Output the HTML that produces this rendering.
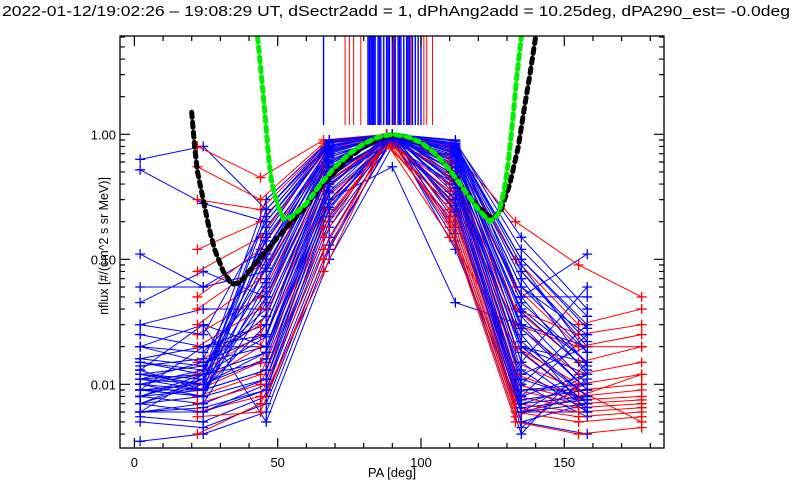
<!DOCTYPE html>
<html><head><meta charset="utf-8">
<style>
html,body{margin:0;padding:0;background:#fff;width:800px;height:500px;overflow:hidden}
svg{display:block;font-family:"Liberation Sans",sans-serif}
</style></head>
<body>
<svg id="chart" width="800" height="500" viewBox="0 0 800 500" xmlns="http://www.w3.org/2000/svg">
<text x="2" y="16" font-size="14.5" textLength="788" lengthAdjust="spacingAndGlyphs" fill="#000">2022-01-12/19:02:26 – 19:08:29 UT, dSectr2add = 1, dPhAng2add = 10.25deg, dPA290_est=  -0.0deg</text>
<text x="392" y="477" font-size="13" text-anchor="middle" fill="#000">PA [deg]</text>
<text transform="translate(108,246) rotate(-90)" font-size="12.5" text-anchor="middle" fill="#000">nflux [#/(cm^2 s sr MeV)]</text>
<g id="marks"></g>
<g id="axes"></g>
</svg>
<script>
const bluePA=[2,24,46,68,90,112,135,158];
const redPA=[22,44,66,88,110,133,155,177];
const blueSeries=[
[0.63,0.8,0.25,0.85,1.0,0.7,0.03,0.02],
[0.52,0.28,0.2,0.8,1.0,0.75,0.02,0.008],
[0.11,0.06,0.12,0.7,1.0,0.6,0.05,0.11],
[0.06,0.06,0.08,0.6,0.95,0.55,0.015,0.06],
[0.045,0.08,0.05,0.55,1.0,0.5,0.01,0.03],
[0.03,0.04,0.04,0.5,0.9,0.45,0.008,0.025],
[0.025,0.02,0.03,0.45,1.0,0.4,0.012,0.02],
[0.02,0.015,0.025,0.4,0.95,0.42,0.02,0.015],
[0.016,0.02,0.02,0.35,1.0,0.35,0.006,0.012],
[0.012,0.01,0.018,0.3,0.9,0.3,0.007,0.01],
[0.011,0.012,0.015,0.28,0.85,0.28,0.009,0.009],
[0.009,0.009,0.013,0.25,1.0,0.25,0.005,0.007],
[0.008,0.007,0.011,0.22,0.92,0.22,0.006,0.006],
[0.007,0.006,0.01,0.2,0.97,0.2,0.01,0.0055],
[0.006,0.0065,0.009,0.18,0.88,0.18,0.005,0.004],
[0.0055,0.005,0.008,0.15,1.0,0.16,0.0045,0.011],
[0.005,0.0045,0.007,0.13,0.9,0.14,0.004,0.015],
[0.0035,0.004,0.006,0.12,0.95,0.12,0.006,0.008],
[0.02,0.03,0.02,0.3,0.55,0.045,0.03,0.02],
[0.015,0.012,0.3,0.9,1.0,0.9,0.05,0.05],
[0.01,0.008,0.15,0.7,1.0,0.8,0.1,0.03],
[0.013,0.03,0.005,0.1,0.8,0.4,0.02,0.012],
[0.007,0.011,0.1,0.8,1.0,0.85,0.15,0.04],
[0.02,0.018,0.06,0.65,1.0,0.7,0.08,0.02],
[0.012,0.014,0.04,0.5,0.95,0.6,0.04,0.015],
[0.009,0.02,0.025,0.6,1.0,0.5,0.03,0.009],
[0.006,0.012,0.018,0.4,0.9,0.65,0.025,0.006],
[0.03,0.025,0.2,0.85,0.98,0.75,0.06,0.025],
[0.011,0.01,0.22,0.88,1.0,0.82,0.09,0.018],
[0.008,0.009,0.18,0.82,0.97,0.78,0.07,0.014],
[0.014,0.016,0.14,0.78,1.0,0.72,0.05,0.012],
[0.01,0.013,0.11,0.74,0.95,0.68,0.035,0.01],
[0.007,0.008,0.09,0.7,1.0,0.62,0.028,0.009],
[0.012,0.011,0.07,0.66,0.93,0.58,0.022,0.008],
[0.009,0.01,0.055,0.62,1.0,0.54,0.018,0.007],
[0.006,0.007,0.045,0.58,0.96,0.5,0.015,0.0065],
[0.016,0.014,0.035,0.54,1.0,0.46,0.013,0.006],
[0.01,0.009,0.03,0.5,0.92,0.43,0.011,0.0075],
[0.008,0.012,0.024,0.46,1.0,0.4,0.009,0.01],
[0.011,0.015,0.02,0.42,0.95,0.37,0.008,0.012],
[0.007,0.01,0.016,0.38,1.0,0.33,0.0075,0.009],
[0.013,0.009,0.013,0.34,0.9,0.3,0.007,0.008],
[0.009,0.008,0.011,0.3,0.97,0.27,0.0065,0.0075],
[0.006,0.006,0.009,0.26,1.0,0.24,0.006,0.007],
[0.012,0.01,0.25,0.9,1.0,0.88,0.12,0.035],
[0.01,0.012,0.16,0.86,0.98,0.84,0.1,0.028],
[0.008,0.011,0.12,0.8,1.0,0.8,0.08,0.022],
[0.015,0.013,0.085,0.76,0.96,0.76,0.06,0.018],
[0.009,0.008,0.065,0.72,1.0,0.7,0.045,0.015],
[0.011,0.009,0.05,0.68,0.94,0.66,0.038,0.013]
];
const redSeries=[
[0.8,0.45,0.9,1.0,0.8,0.2,0.09,0.05],
[0.55,0.3,0.85,1.0,0.75,0.1,0.03,0.04],
[0.3,0.25,0.8,1.0,0.7,0.06,0.02,0.025],
[0.12,0.2,0.75,0.95,0.65,0.04,0.015,0.02],
[0.08,0.15,0.7,1.0,0.6,0.03,0.012,0.015],
[0.05,0.12,0.6,0.9,0.55,0.02,0.01,0.012],
[0.04,0.09,0.55,0.95,0.5,0.015,0.009,0.01],
[0.03,0.07,0.5,1.0,0.45,0.012,0.008,0.009],
[0.025,0.05,0.45,0.85,0.4,0.01,0.0075,0.008],
[0.02,0.04,0.4,0.9,0.35,0.009,0.007,0.0075],
[0.015,0.03,0.35,1.0,0.3,0.008,0.0065,0.007],
[0.012,0.025,0.3,0.8,0.28,0.007,0.006,0.0065],
[0.01,0.02,0.25,0.95,0.25,0.0065,0.0055,0.006],
[0.009,0.015,0.2,0.85,0.22,0.006,0.005,0.0055],
[0.008,0.012,0.18,0.9,0.2,0.0055,0.009,0.005],
[0.007,0.01,0.15,1.0,0.18,0.005,0.004,0.0045],
[0.006,0.008,0.12,0.85,0.15,0.02,0.008,0.012],
[0.0055,0.006,0.1,0.95,0.5,0.04,0.025,0.03],
[0.004,0.007,0.08,0.9,0.35,0.03,0.02,0.02]
];
const blueVertPA=[66,81.5,82,82.5,83,83.5,84,85,85.5,86,87,88,88.5,89,90,90.5,91,92,92.5,93,94,95,95.5,96,97,98,99,100];
const redVertPA=[73.5,75,76.5,79,90.5,96.5,101,102,104];
const greenPA=[43,44,45,46,47,48,50,52,55,60,65,70,75,80,85,90,95,100,105,110,115,120,124,127,129,130.5,132,133.5,135];
const greenVal=[6,3.5,2,1.1,0.6,0.4,0.27,0.21,0.22,0.28,0.4,0.55,0.7,0.84,0.95,1.0,0.96,0.86,0.7,0.52,0.36,0.25,0.2,0.23,0.35,0.6,1.3,3,6];
const blackPA=[20,21,22,24,26,28,31,34,37,40,45,50,55,60,65,70,75,80,85,90,95,100,105,110,115,120,125,128,131,134,136,138,140];
const blackVal=[1.5,0.8,0.5,0.3,0.18,0.12,0.08,0.063,0.065,0.08,0.11,0.15,0.2,0.27,0.38,0.5,0.65,0.8,0.92,0.98,0.95,0.85,0.7,0.52,0.36,0.26,0.21,0.25,0.4,0.8,1.6,3,6];
const xTicks=[0,50,100,150];
const xTickLabels=["0","50","100","150"];
const yTicks=[0.01,0.1,1];
const yTickLabels=["0.01","0.10","1.00"];

const L=120,R=664,T=36,B=448;
const X=pa=>134.4+pa*2.866;
const Y=v=>134.3-125*Math.log10(v);
const NS="http://www.w3.org/2000/svg";
const marks=document.getElementById('marks'),axes=document.getElementById('axes');
function mk(tag,attrs,parent){const e=document.createElementNS(NS,tag);for(const k in attrs)e.setAttribute(k,attrs[k]);parent.appendChild(e);return e;}
const clip=mk('clipPath',{id:'pc'},document.getElementById('chart'));
mk('rect',{x:L,y:T,width:R-L,height:B-T},clip);
marks.setAttribute('clip-path','url(#pc)');

function series(pas,vals,color,name){
  const g=mk('g',{},marks);
  
  
  const pts=pas.map((p,i)=>X(p).toFixed(1)+','+Y(vals[i]).toFixed(1)).join(' ');
  const pl=mk('polyline',{points:pts,fill:'none',stroke:color,'stroke-width':1},g);
  
  
  let d='';
  pas.forEach((p,i)=>{const x=X(p),y=Y(vals[i]);d+=`M${x-5},${y}h10M${x},${y-5}v10`;});
  const m=mk('path',{d:d,stroke:color,'stroke-width':1.3,fill:'none'},g);
  
  
}
const half=Math.floor(blueSeries.length/2);
blueSeries.slice(0,half).forEach((s,i)=>series(bluePA,s,'#0000ff','blue-series-'+(i+1)));
redSeries.forEach((s,i)=>series(redPA,s,'#ff0000','red-series-'+(i+1)));
blueSeries.slice(half).forEach((s,i)=>series(bluePA,s,'#0000ff','blue-series-'+(half+i+1)));
blueVertPA.forEach(p=>{const l=mk('line',{x1:X(p),x2:X(p),y1:T,y2:125,stroke:'#0000ff','stroke-width':1.4},marks);
  
  });
redVertPA.forEach(p=>{const l=mk('line',{x1:X(p),x2:X(p),y1:T,y2:125,stroke:'#ff0000','stroke-width':1},marks);
  
  });
function curve(pas,vals,color,name){
  const pts=pas.map((p,i)=>X(p).toFixed(1)+','+Y(vals[i]).toFixed(1)).join(' ');
  const c=mk('polyline',{points:pts,fill:'none',stroke:color,'stroke-width':5,'stroke-dasharray':'5 5','stroke-linecap':'round'},marks);
  
  
}
curve(blackPA,blackVal,'#000000','black-model-curve');
curve(greenPA,greenVal,'#00ee00','green-model-curve');

const fr=mk('rect',{x:L,y:T,width:R-L,height:B-T,fill:'none',stroke:'#000','stroke-width':1.3},axes);


let td='';
for(let p=0;p<=180;p+=10){const x=X(p);const len=(p%50===0)?10:5;td+=`M${x},${B}v${-len}M${x},${T}v${len}`;}
for(let e=-3;e<=0;e++){for(let k=1;k<=9;k++){const v=k*Math.pow(10,e);const y=Y(v);if(y<T||y>B)continue;const len=k===1?10:5;td+=`M${L},${y}h${len}M${R},${y}h${-len}`;}}
const tk=mk('path',{d:td,stroke:'#000','stroke-width':1.2,fill:'none'},axes);


xTicks.forEach((t,i)=>{const e=mk('text',{x:X(t),y:467,'font-size':13,'text-anchor':'middle',fill:'#000'},axes);e.textContent=xTickLabels[i];
  
  });
yTicks.forEach((t,i)=>{const e=mk('text',{x:116,y:Y(t)+5,'font-size':13,'text-anchor':'end',fill:'#000'},axes);e.textContent=yTickLabels[i];
  
  });
</script>
</body></html>
